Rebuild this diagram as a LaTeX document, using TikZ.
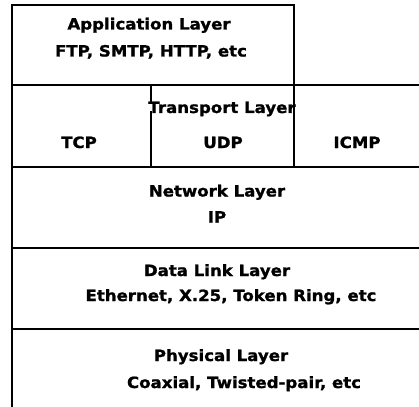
\documentclass[tikz,border=0pt]{standalone}
\usepackage{fontspec}
\setmainfont{DejaVu Sans}[FakeStretch=1.07,BoldFeatures={FakeBold=1.2}]
\begin{document}
\begin{tikzpicture}[x=1pt,y=-1pt,
  rule/.style={line width=1.8pt,line cap=rect},
  lbl/.style={font=\bfseries\fontsize{15.5}{18}\selectfont,inner sep=0pt,anchor=base}]
\useasboundingbox[fill=white] (0,0) rectangle (419,406);
% grid lines
\coordinate (tl) at (12,5);
\coordinate (tr) at (294,5);
\draw[rule] (12,406) -- (tl) -- (tr) -- (294,167);
\draw[rule] (12,85) -- (419,85);
\draw[rule] (151,85) -- (151,101);
\draw[rule] (151,112) -- (151,167);
\draw[rule] (12,167) -- (419,167);
\draw[rule] (12,248) -- (419,248);
\draw[rule] (12,329) -- (419,329);
% labels
\node[lbl] (app) at (149,29.5) {Application Layer};
\node[lbl] (appp) at (151,56.5) {FTP, SMTP, HTTP, etc};
\node[lbl] (tra) at (222,113) {Transport Layer};
\node[lbl] (tcp) at (79,148) {TCP};
\node[lbl] (udp) at (223,148) {UDP};
\node[lbl] (icmp) at (357,148) {ICMP};
\node[lbl] (net) at (217,196.5) {Network Layer};
\node[lbl] (ip) at (217,222.5) {IP};
\node[lbl] (dl) at (217,276) {Data Link Layer};
\node[lbl] (dlp) at (231,301) {Ethernet, X.25, Token Ring, etc};
\node[lbl] (ph) at (221,361) {Physical Layer};
\node[lbl] (php) at (244,388) {Coaxial, Twisted-pair, etc};
\end{tikzpicture}
\end{document}
